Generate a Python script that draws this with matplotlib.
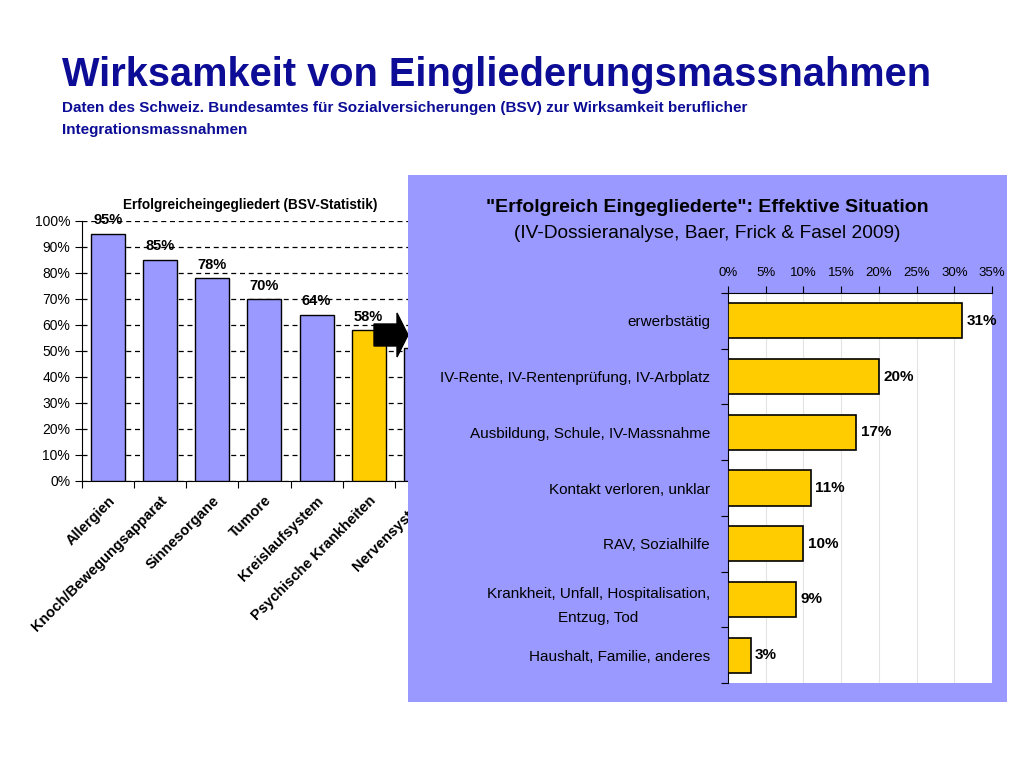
import numpy as np
import matplotlib.pyplot as plt
from matplotlib.patches import FancyArrow

plt.rcParams['font.family'] = ['Liberation Sans', 'DejaVu Sans']

# left chart data (BSV statistics)
bsv_labels = ["Allergien", "Knoch/Bewegungsapparat", "Sinnesorgane", "Tumore",
              "Kreislaufsystem", "Psychische Krankheiten", "Nervensystem"]
bsv_values = [95, 85, 78, 70, 64, 58, 51]
bsv_highlight = 5

# right chart data (Dossieranalyse)
situ_labels = ["erwerbstätig", "IV-Rente, IV-Rentenprüfung, IV-Arbplatz",
               "Ausbildung, Schule, IV-Massnahme", "Kontakt verloren, unklar",
               "RAV, Sozialhilfe", "Krankheit, Unfall, Hospitalisation,\nEntzug, Tod",
               "Haushalt, Familie, anderes"]
situ_values = [31, 20, 17, 11, 10, 9, 3]

blue_dark = "#0c0c96"
lavender = "#9999ff"
yellow = "#ffcc00"

fig = plt.figure(figsize=(10.24, 7.68), dpi=100)

fig.text(62/1024, 1-75/768, "Wirksamkeit von Eingliederungsmassnahmen",
         fontsize=28.6, fontweight="bold", color=blue_dark, va="center")
fig.text(62/1024, 1-108/768,
         "Daten des Schweiz. Bundesamtes für Sozialversicherungen (BSV) zur Wirksamkeit beruflicher",
         fontsize=11, fontweight="bold", color=blue_dark, va="center")
fig.text(62/1024, 1-130/768, "Integrationsmassnahmen",
         fontsize=11, fontweight="bold", color=blue_dark, va="center")

# ---- left chart
ax1 = fig.add_axes([82/1024, 1-481/768, 417/1024, 260/768], zorder=0)
x = np.arange(len(bsv_values))
colors = [yellow if i == bsv_highlight else lavender for i in x]
ax1.bar(x, bsv_values, width=0.65, color=colors, edgecolor="black", linewidth=1, zorder=3)
for xi, v in zip(x, bsv_values):
    ax1.text(xi, v + 2.5, f"{v}%", ha="center", va="bottom", fontsize=10.5, fontweight="bold", zorder=4)
ax1.set_xlim(-0.5, 7.5)
ax1.set_ylim(0, 100)
ax1.set_yticks(np.arange(0, 101, 10))
ax1.set_yticklabels([f"{t}%" for t in range(0, 101, 10)], fontsize=10)
ax1.yaxis.grid(True, color="black", linestyle=(0, (4, 3)), linewidth=0.9)
ax1.set_axisbelow(True)
ax1.set_xticks(np.arange(-0.5, 8, 1))
ax1.set_xticklabels([])
ax1.set_xticks(x, minor=True)
ax1.set_xticklabels(bsv_labels, minor=True, rotation=45, ha="right", va="top",
                    rotation_mode="anchor", fontsize=10.5, fontweight="bold")
ax1.tick_params(axis="x", which="minor", length=0, pad=9)
ax1.tick_params(axis="x", which="major", length=5, direction="out")
ax1.tick_params(axis="y", length=5, direction="out")
for s in ["top", "right"]:
    ax1.spines[s].set_visible(False)
ax1.set_title("Erfolgreicheingegliedert (BSV-Statistik)", x=(250-82)/417,
              fontsize=9.8, fontweight="bold", pad=9)
ax1.patch.set_alpha(0)

# arrow between charts
arrow = FancyArrow(3.74, 7.68 - 3.35, 0.34, 0, width=0.22, head_width=0.44, head_length=0.11,
                   length_includes_head=True, color="black", transform=fig.dpi_scale_trans, zorder=0.5)
fig.patches.append(arrow)

# ---- lavender panel
axbg = fig.add_axes([408/1024, 1-702/768, 599/1024, 527/768], zorder=1)
axbg.set_facecolor(lavender)
axbg.set_xticks([])
axbg.set_yticks([])
for s in axbg.spines.values():
    s.set_visible(False)

axbg.text(0.5, 1-32/527, '"Erfolgreich Eingegliederte": Effektive Situation', transform=axbg.transAxes,
          ha="center", va="center", fontsize=14, fontweight="bold")
axbg.text(0.5, 1-59/527, "(IV-Dossieranalyse, Baer, Frick & Fasel 2009)", transform=axbg.transAxes,
          ha="center", va="center", fontsize=13.8)

# ---- right chart
ax2 = fig.add_axes([728/1024, 1-683/768, 264/1024, 390/768], zorder=2)
ax2.set_facecolor("white")
y = np.arange(len(situ_values))
ax2.barh(y, situ_values, height=0.63, color=yellow, edgecolor="black", linewidth=1.2, zorder=3)
for yi, v in zip(y, situ_values):
    ax2.text(v + 0.6, yi, f"{v}%", ha="left", va="center", fontsize=11, fontweight="bold", zorder=4)
ax2.set_xlim(0, 35)
ax2.set_ylim(len(situ_values) - 0.5, -0.5)
ax2.xaxis.tick_top()
ax2.set_xticks(np.arange(0, 36, 5))
ax2.set_xticklabels([f"{t}%" for t in range(0, 36, 5)], fontsize=9.5)
ax2.xaxis.grid(True, color="#e4e4e4", linewidth=0.8)
ax2.set_axisbelow(True)
ax2.set_yticks(np.arange(-0.5, len(situ_values), 1))
ax2.set_yticklabels([])
ax2.set_yticks(y, minor=True)
ax2.set_yticklabels(situ_labels, minor=True, fontsize=11)
for lbl in ax2.get_yticklabels(minor=True):
    lbl.set_linespacing(1.9)
    lbl.set_multialignment("center")
ax2.tick_params(axis="y", which="minor", length=0, pad=13)
ax2.tick_params(axis="x", length=5, direction="out", pad=5)
ax2.tick_params(axis="y", which="major", length=5, direction="out")
for s in ["bottom", "right"]:
    ax2.spines[s].set_visible(False)

fig.savefig("out.png", dpi=100)
